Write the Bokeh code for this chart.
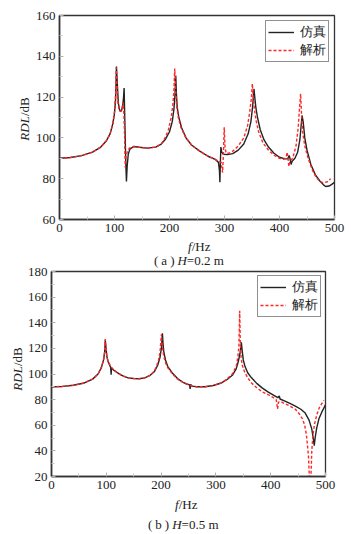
from bokeh.plotting import figure
from bokeh.models import Legend, LegendItem, FixedTicker, Range1d, Div
from bokeh.layouts import column, row
from bokeh.embed import file_html
from bokeh.resources import INLINE

# ---------------- data: (a) H=0.2 m ----------------
a_sim_f = [0, 20, 40, 60, 75, 85, 92, 97, 100, 102, 103.6, 105, 107, 109, 111, 113, 115, 116.5, 117.5,
           118.5, 119.5, 120.5, 121.7, 123, 125, 128, 135, 145, 160, 175, 185, 193, 200, 205, 208, 210,
           211.4, 212.5, 214, 217, 222, 230, 240, 255, 270, 283, 289, 290.8, 291.6, 292.5, 293.4, 295,
           298, 305, 315, 325, 335, 343, 348, 351, 353.6, 355, 357, 360, 365, 372, 380, 390, 400, 410,
           415, 417.5, 419, 421, 423, 428, 433, 437, 441, 443, 446, 450, 457, 465, 473, 480, 484, 490,
           495, 500]
a_sim_v = [90, 90.4, 91.3, 93, 95.5, 98.5, 102, 107, 112, 119, 135, 127, 117, 114, 113, 113.5, 116, 120, 124.5,
           112, 100, 88, 78.6, 86, 92, 94.5, 95.8, 95.4, 95, 95.5, 97, 99.5, 103, 108, 114, 121,
           130.6, 122, 115, 110, 105, 100, 96.5, 93.5, 91, 89.5, 88, 84, 78.3, 88, 95.5, 93,
           92, 91.8, 92.3, 94, 97, 102, 108, 115, 124, 120, 115, 110, 104, 99, 95.5, 92.5, 90.5, 89.7,
           89.8, 91.4, 90, 87, 88.5, 90, 93, 99, 111, 108, 100, 94, 87, 82, 79, 77, 76.2, 76.4,
           77.2, 78.3]

a_ana_f = [0, 20, 40, 60, 75, 85, 92, 97, 100, 102, 103.2, 104.5, 106, 108, 110, 112, 114, 115.5, 117,
           118.5, 119.5, 120.5, 123, 127, 135, 145, 160, 175, 185, 192, 198, 203, 206, 208, 209.5, 211,
           213, 216, 221, 230, 240, 255, 270, 283, 290, 294, 296.5, 298, 299.5, 301, 303, 308, 315, 325,
           335, 342, 346, 349, 350.6, 352, 354, 357, 362, 370, 380, 390, 400, 408, 412, 414, 415.5, 417,
           419, 424, 430, 434, 436.5, 438.4, 440, 442, 446, 452, 460, 467, 474, 480, 487, 493]
a_ana_v = [90, 90.4, 91.3, 93, 95.5, 98.5, 102, 107, 113, 121, 134.5, 126, 118, 114.5, 113, 113, 114.5, 117.5, 112,
           100, 85.5, 90, 93, 95, 95.8, 95.4, 95, 95.5, 97, 100, 104, 110, 116, 123, 134, 124,
           116, 110, 105, 100, 96.5, 93.5, 91, 89.5, 88.5, 88, 83, 92, 105.2, 95, 92.5, 92.5, 93.5, 96,
           100, 106, 113, 120, 126.5, 121, 115, 109, 103, 97.5, 94, 91.5, 90, 89.5, 90.5, 93, 90, 86,
           88.5, 90, 96, 105, 115, 121.6, 112, 103, 96, 90, 84, 80.5, 78.5, 78, 78.5, 80]

# ---------------- data: (b) H=0.5 m ----------------
b_sim_f = [0, 20, 40, 60, 75, 85, 91, 95, 97, 98.2, 99.5, 101, 103, 106, 108, 108.8, 109.5, 112, 120, 130,
           140, 150, 160, 170, 180, 188, 194, 198, 200.5, 202.4, 203.5, 205, 208, 212, 220, 230, 240, 248,
           252, 253, 254, 256, 265, 280, 295, 310, 320, 330, 337, 341, 344, 346.4, 348, 350, 353, 358,
           365, 375, 385, 395, 405, 413, 415.7, 417, 425, 435, 445, 455, 463, 470, 475, 478, 479.5, 481,
           484, 488, 493, 500]
b_sim_v = [90, 90.3, 91.2, 93, 96, 100, 105, 111, 117, 126.5, 120, 114, 110, 107, 105, 99.5, 104.5, 103.5, 101, 98.5,
           97, 96.5, 96.3, 97, 99, 102, 107, 113, 120, 131.7, 124, 117, 111, 106, 101, 96.5, 93.5, 92,
           91.5, 88.3, 92, 90.5, 90, 90, 91, 93, 95.5, 99, 104, 110, 116, 124.7, 118, 111, 106, 101,
           97, 92.5, 89, 86, 83.5, 81.5, 82.8, 80.5, 79, 77, 75, 72.5, 69.5, 64, 57, 49, 44, 50,
           58, 65, 70, 76]

b_ana_f = [0, 20, 40, 60, 75, 85, 91, 95, 97, 98, 99.5, 101, 103, 108, 112, 120, 130, 140, 150, 160, 170,
           180, 188, 195, 198, 200.6, 202, 204, 207, 212, 220, 230, 240, 253, 265, 280, 295, 310, 320,
           330, 337, 340, 342, 343.4, 344.5, 346, 348, 352, 358, 365, 375, 385, 395, 405, 410, 412.6,
           414, 418, 425, 435, 445, 452, 458, 462, 465, 467, 469, 470.5, 472, 473.5, 475, 477, 480, 484,
           489, 497]
b_ana_v = [90, 90.3, 91.2, 93, 96, 100, 105, 111, 117, 127.3, 120, 114, 110, 106, 104, 101, 98.5, 97, 96.5, 96.3, 97,
           99, 102.5, 110, 117, 131, 122, 116, 110, 105, 100.5, 96, 93.5, 91, 90, 90, 91, 93, 96,
           100, 106, 113, 122, 149.4, 125, 113, 107, 102, 97, 93, 89, 86, 84, 81.5, 80, 72.7,
           78, 78.5, 77, 75, 72.5, 69, 65, 60, 53, 45, 35, 20, 0, 20, 40, 52, 61, 68,
           74, 79.5]

x_ticks = [0, 100, 200, 300, 400, 500]
x_minor = [50, 150, 250, 350, 450]
a_y_ticks = [60, 80, 100, 120, 140, 160]
a_y_minor = [70, 90, 110, 130, 150]
b_y_ticks = [20, 40, 60, 80, 100, 120, 140, 160, 180]
b_y_minor = [30, 50, 70, 90, 110, 130, 150, 170]
legend_labels = ["仿真", "解析"]

SERIF = "Liberation Serif"
INK = "#222222"
RED = "#ff2626"
CSS_FONT = "font-family:'Liberation Serif',serif;font-size:13px;color:#222;line-height:14px;white-space:nowrap;"


def make_fig(w, h, left, right, top, bottom, y0, y1, yt, ym):
    p = figure(width=w, height=h, output_backend="svg", toolbar_location=None,
               x_range=Range1d(0, 500), y_range=Range1d(y0, y1),
               min_border_left=left, min_border_right=right,
               min_border_top=top, min_border_bottom=bottom, margin=0)
    p.xgrid.visible = False
    p.ygrid.visible = False
    p.outline_line_color = "#333333"
    p.outline_line_width = 1.3
    p.border_fill_alpha = 0.0
    p.xaxis.ticker = FixedTicker(ticks=x_ticks, minor_ticks=x_minor)
    p.yaxis.ticker = FixedTicker(ticks=yt, minor_ticks=ym)
    for ax in (p.xaxis[0], p.yaxis[0]):
        ax.axis_line_color = "#333333"
        ax.axis_line_width = 1.6
        ax.major_tick_in = 4
        ax.major_tick_out = 0
        ax.minor_tick_in = 3
        ax.minor_tick_out = 0
        ax.major_tick_line_color = "#b0b0b0"
        ax.minor_tick_line_color = "#c8c8c8"
        ax.major_label_text_font = SERIF
        ax.major_label_text_font_size = "13px"
        ax.major_label_text_color = INK
    p.xaxis.major_label_standoff = 4
    p.yaxis.major_label_standoff = 4
    return p


def add_curves(p, sf, sv, af, av, mg):
    r1 = p.line(sf, sv, line_color=INK, line_width=1.4)
    r2 = p.line(af, av, line_color=RED, line_width=1.4, line_dash="3 2")
    lg = Legend(items=[LegendItem(label=legend_labels[0], renderers=[r1]),
                       LegendItem(label=legend_labels[1], renderers=[r2])],
                location="top_right", label_text_font=SERIF, label_text_font_size="13px",
                label_text_line_height=0.85,
                label_text_color=INK, border_line_color="#222222", border_line_width=1,
                padding=2, spacing=0, glyph_width=26, glyph_height=12, label_height=12,
                label_standoff=6, margin=mg, background_fill_alpha=1.0)
    p.add_layout(lg)


def ylabel_div(w, h, cx, cy):
    html = (f'<div style="position:relative;width:{w}px;height:{h}px;">'
            f'<div style="position:absolute;left:{cx}px;top:{cy}px;'
            f'transform:translate(-50%,-50%) rotate(-90deg);{CSS_FONT}">'
            f'<i>RDL</i>/dB</div></div>')
    return Div(text=html, width=w, height=h, margin=0)


def caption_div(w, h, fx, fy, cx, cy, tag, hval):
    html = (f'<div style="position:relative;width:{w}px;height:{h}px;overflow:visible;">'
            f'<div style="position:absolute;left:{fx}px;top:{fy}px;{CSS_FONT}"><i>f</i>/Hz</div>'
            f'<div style="position:absolute;left:{cx}px;top:{cy}px;{CSS_FONT}">'
            f'(<span style="padding:0 3px;">{tag}</span>)<span style="padding-left:3px;"><i>H</i>=0.{hval} m</span></div>'
            f'</div>')
    return Div(text=html, width=w, height=h, margin=0,
               styles={"overflow": "visible", "z-index": "10", "position": "relative"})


# ---- top panel: frame x 58..334, y 15..219 (page pixels) ----
pa = make_fig(319, 239, 26, 17, 15, 20, 60, 160, a_y_ticks, a_y_minor)
add_curves(pa, a_sim_f, a_sim_v, a_ana_f, a_ana_v, 5)
top_row = row(ylabel_div(32, 239, 25, 119), pa, spacing=0)
cap_a = caption_div(351, 13, 188, 1, 154, 15, "a", 2)

# ---- bottom panel: frame x 48..325, y 271..476 (page pixels) ----
pb = make_fig(327, 244, 24, 26, 19, 20, 20, 180, b_y_ticks, b_y_minor)
add_curves(pb, b_sim_f, b_sim_v, b_ana_f, b_ana_v, 4)
bot_row = row(ylabel_div(24, 244, 18, 117), pb, spacing=0)
cap_b = caption_div(351, 38, 175, 2, 148, 22, "b", 5)

layout = column(top_row, cap_a, bot_row, cap_b, spacing=0)
open("out.html", "w").write(file_html(layout, INLINE))
